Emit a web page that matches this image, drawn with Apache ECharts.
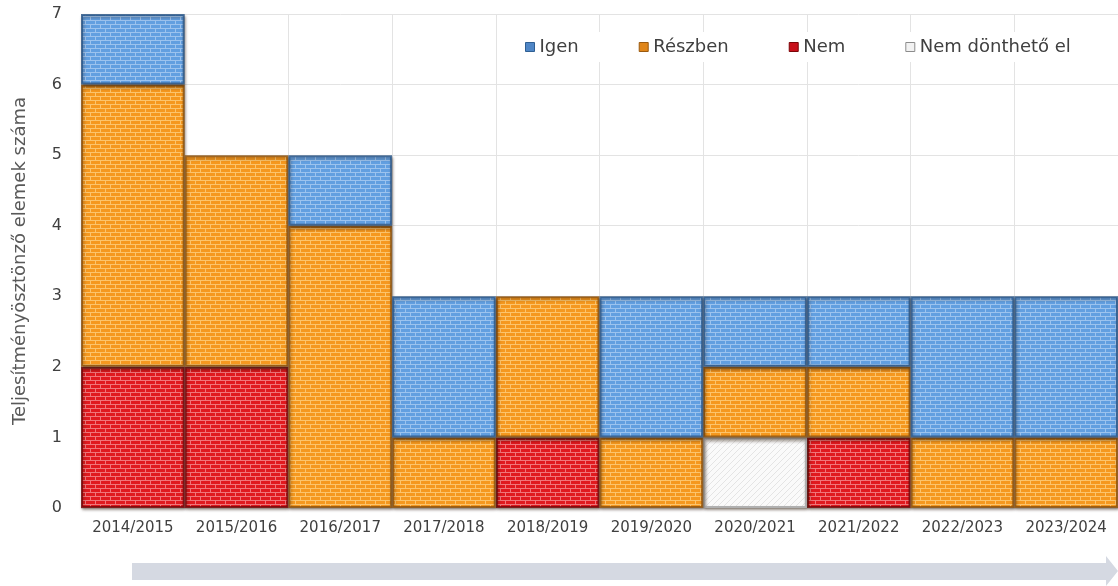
<!DOCTYPE html>
<html>
<head>
<meta charset="utf-8">
<script src="https://cdn.jsdelivr.net/npm/echarts@6/dist/echarts.min.js"></script>
<style>
  html, body { margin: 0; padding: 0; background: #fff; }
  #chart { width: 1118px; height: 586px; }
</style>
</head>
<body>
<div id="chart"></div>
<script>
// tanévek
const years = ["2014/2015", "2015/2016", "2016/2017", "2017/2018", "2018/2019",
  "2019/2020", "2020/2021", "2021/2022", "2022/2023", "2023/2024"];
// értékek (alulról felfelé: Nem, Nem dönthető el, Részben, Igen)
const nem = [2, 2, 0, 0, 1, 0, 0, 1, 0, 0];
const nemDontheto = [0, 0, 0, 0, 0, 0, 1, 0, 0, 0];
const reszben = [4, 3, 4, 1, 2, 1, 1, 1, 1, 1];
const igen = [1, 0, 1, 2, 0, 2, 1, 1, 2, 2];
const yTicks = [0, 1, 2, 3, 4, 5, 6, 7];

// téglamintás kitöltés
function brick(base, mortar) {
  let c = document.createElement("canvas");
  c.width = 10;
  c.height = 8;
  let ctx = c.getContext("2d");
  ctx.fillStyle = base;
  ctx.fillRect(0, 0, 10, 8);
  ctx.fillStyle = mortar;
  ctx.fillRect(0, 0, 10, 1);
  ctx.fillRect(0, 4, 10, 1);
  ctx.fillRect(0, 1, 1, 3);
  ctx.fillRect(5, 5, 1, 3);
  return { image: c, repeat: "repeat" };
}

function hatch() {
  let c = document.createElement("canvas");
  c.width = 6;
  c.height = 6;
  let ctx = c.getContext("2d");
  ctx.fillStyle = "#fafafa";
  ctx.fillRect(0, 0, 6, 6);
  ctx.strokeStyle = "#e4e4e4";
  ctx.lineWidth = 1;
  ctx.beginPath();
  ctx.moveTo(0, 6);
  ctx.lineTo(6, 0);
  ctx.stroke();
  return { image: c, repeat: "repeat" };
}

let chart = echarts.init(document.getElementById("chart"));

function bar(name, data, fill, edge) {
  return {
    name: name,
    type: "bar",
    stack: "total",
    // a nulla értékű oszlopokat nem rajzoljuk (különben vonal marad)
    data: data.map((v) => (v === 0 ? "-" : v)),
    barCategoryGap: 0,
    itemStyle: {
      color: fill,
      borderColor: edge,
      borderWidth: 2,
      shadowColor: "rgba(40,20,0,0.4)",
      shadowBlur: 3,
      shadowOffsetX: 1,
      shadowOffsetY: 2,
    },
  };
}

let option = {
  animation: false,
  textStyle: { fontFamily: "DejaVu Sans" },
  color: ["#d9141b", "#f2f2f2", "#f39a24", "#5f9ddf"],
  grid: { left: 81, right: -9, top: 14, bottom: 78 },
  legend: {
    data: [
      { name: "Igen", itemStyle: { color: "#4f86c6", borderColor: "#2f5f93", borderWidth: 1 } },
      { name: "Részben", itemStyle: { color: "#e0861a", borderColor: "#9a5a10", borderWidth: 1 } },
      { name: "Nem", itemStyle: { color: "#c8101a", borderColor: "#7a0508", borderWidth: 1 } },
      { name: "Nem dönthető el", itemStyle: { color: "#f2f2f2", borderColor: "#8c8c8c", borderWidth: 1 } },
    ],
    top: 32,
    left: 517,
    icon: "rect",
    itemWidth: 9,
    itemHeight: 9,
    itemGap: 60,
    backgroundColor: "#fff",
    padding: [6, 8],
    textStyle: { fontSize: 18, color: "#404040", fontFamily: "DejaVu Sans" },
  },
  xAxis: {
    type: "category",
    data: years,
    axisLine: { show: false },
    axisTick: { show: false },
    axisLabel: { interval: 0, fontSize: 15, color: "#404040", margin: 13 },
    splitLine: { show: true, interval: 0, lineStyle: { color: "#e3e3e3", width: 1 } },
  },
  yAxis: {
    type: "value",
    min: 0,
    max: 7,
    interval: 1,
    name: "Teljesítményösztönző elemek száma",
    nameLocation: "middle",
    nameGap: 52,
    nameTextStyle: { fontSize: 18, color: "#595959" },
    axisLabel: {
      fontSize: 16,
      color: "#404040",
      margin: 19,
      formatter: (v) => (yTicks.includes(v) ? String(v) : ""),
    },
    splitLine: { lineStyle: { color: "#e3e3e3", width: 1 } },
  },
  graphic: [
    {
      type: "polygon",
      shape: {
        points: [[132, 563], [1106, 563], [1106, 556], [1118, 571], [1106, 586], [1106, 580], [132, 580]],
      },
      style: { fill: "#d5d9e2" },
    },
  ],
  series: [
    bar("Nem", nem, brick("#e01a1f", "#f0767a"), "rgba(120,8,10,0.85)"),
    bar("Nem dönthető el", nemDontheto, hatch(), "#b0b0b0"),
    bar("Részben", reszben, brick("#f5981f", "#fcc46c"), "rgba(140,80,10,0.8)"),
    bar("Igen", igen, brick("#629fe0", "#9cc3ee"), "rgba(40,85,135,0.8)"),
  ],
};

chart.setOption(option);
</script>
</body>
</html>
